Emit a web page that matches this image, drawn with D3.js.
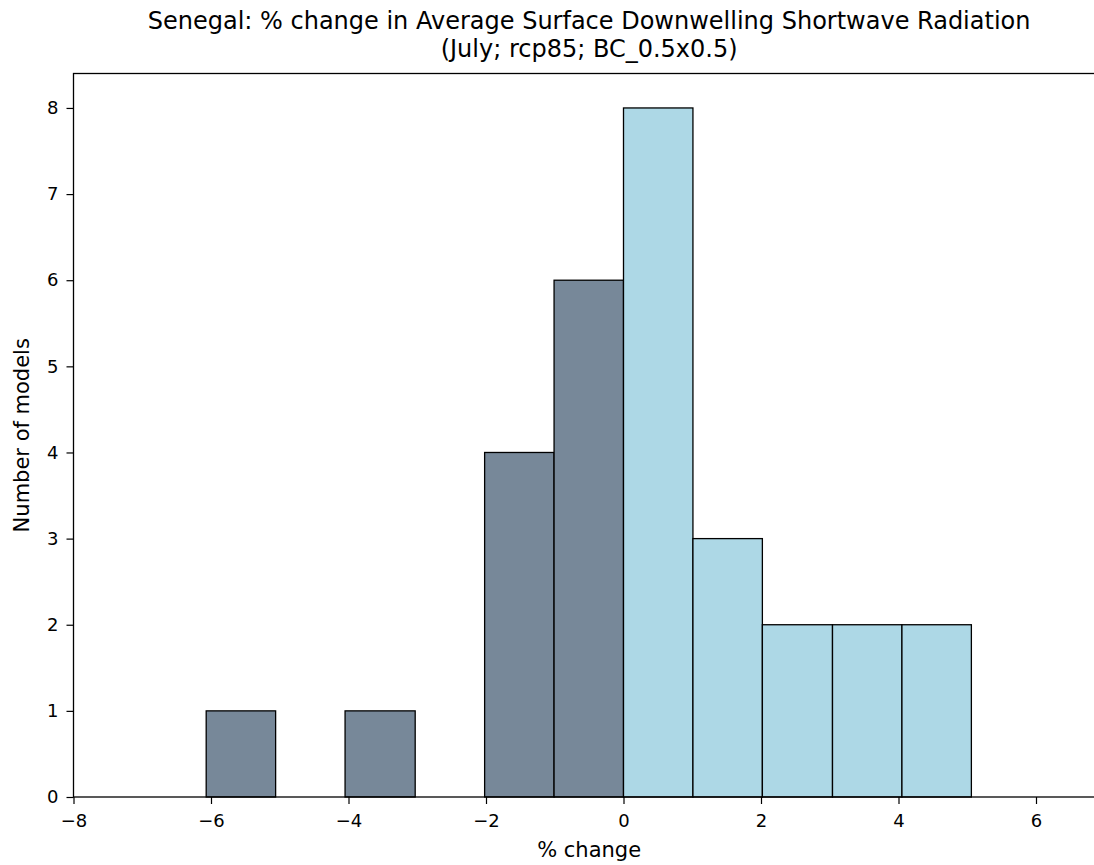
<!DOCTYPE html>
<html><head><meta charset="utf-8">
<script src="https://cdn.jsdelivr.net/npm/d3@7"></script>
<style>body{margin:0;background:#fff;} svg{display:block;font-family:"DejaVu Sans",sans-serif;}</style>
</head><body>
<script>
const binEdges = [-6.07,-5.06,-4.05,-3.03,-2.02,-1.01,0,1.01,2.02,3.04,4.05,5.06,6.07];
const counts = [1,0,1,0,4,6,8,3,2,2,2,0];
const xTicks = [-8,-6,-4,-2,0,2,4,6];
const yTicks = [0,1,2,3,4,5,6,7,8];
const titleLines = ["Senegal: % change in Average Surface Downwelling Shortwave Radiation","(July; rcp85; BC_0.5x0.5)"];
const xLabel = "% change", yLabel = "Number of models";

const W=1094,H=865;
const L=73.5, R=1104.75, T=73.5, B=797;
const svg=d3.select("body").append("svg").attr("width",W).attr("height",H);
const x=d3.scaleLinear().domain([-8,7]).range([L,R]);
const y=d3.scaleLinear().domain([0,8.4]).range([B,T]);

const bins = counts.map((c,i)=>({x0:binEdges[i],x1:binEdges[i+1],c}));
svg.append("g").selectAll("rect").data(bins).join("rect")
  .attr("x",d=>x(d.x0)).attr("width",d=>x(d.x1)-x(d.x0))
  .attr("y",d=>y(d.c)).attr("height",d=>y(0)-y(d.c))
  .attr("fill",d=>d.x0<0?"#778899":"#add8e6")
  .attr("stroke","#000").attr("stroke-width",1.3);

const xa=svg.append("g").attr("transform",`translate(0,${B})`)
  .call(d3.axisBottom(x).tickValues(xTicks).tickSize(7).tickPadding(10).tickFormat(d=>d<0?"\u2212"+Math.abs(d):d));
const ya=svg.append("g").attr("transform",`translate(${L},0)`)
  .call(d3.axisLeft(y).tickValues(yTicks).tickSize(7).tickPadding(8));
[xa,ya].forEach(a=>{a.attr("font-size",null).attr("font-family",null);
  a.selectAll("text").style("font-size","18px").attr("fill","#000");
  a.selectAll("line").attr("stroke","#000").attr("stroke-width",1.2);
  a.select(".domain").remove();});
// spines
svg.append("rect").attr("x",L).attr("y",T).attr("width",R-L).attr("height",B-T)
  .attr("fill","none").attr("stroke","#000").attr("stroke-width",1.3);

const cx=(L+R)/2;
svg.append("text").attr("x",cx).attr("y",29).attr("text-anchor","middle").style("font-size","24px").text(titleLines[0]);
svg.append("text").attr("x",cx).attr("y",57).attr("text-anchor","middle").style("font-size","24px").text(titleLines[1]);
svg.append("text").attr("x",cx).attr("y",857).attr("text-anchor","middle").style("font-size","21px").text(xLabel);
svg.append("text").attr("transform",`translate(29,${(T+B)/2}) rotate(-90)`).attr("text-anchor","middle").style("font-size","21px").text(yLabel);
</script>
</body></html>
